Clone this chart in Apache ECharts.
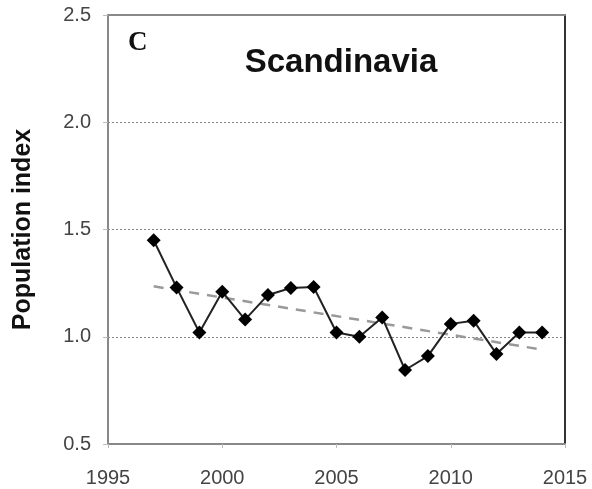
<!DOCTYPE html>
<html>
<head>
<meta charset="utf-8">
<script src="https://cdn.jsdelivr.net/npm/echarts@6/dist/echarts.min.js"></script>
<style>
  html, body { margin: 0; padding: 0; background: #fff; }
  #main { width: 592px; height: 489px; }
</style>
</head>
<body>
<div id="main"></div>
<script>
// data
var years = [1997, 1998, 1999, 2000, 2001, 2002, 2003, 2004, 2005, 2006, 2007, 2008, 2009, 2010, 2011, 2012, 2013, 2014];
var popIndex = [1.45, 1.23, 1.02, 1.21, 1.08, 1.195, 1.227, 1.232, 1.02, 1.0, 1.09, 0.845, 0.91, 1.06, 1.075, 0.92, 1.02, 1.02];
var trendYears = [1997, 2014];
var trendValues = [1.235, 0.94];

var chart = echarts.init(document.getElementById('main'));

var seriesData = [];
for (var i = 0; i < years.length; i++) {
	seriesData.push([years[i], popIndex[i]]);
}
var trendData = [];
for (var j = 0; j < trendYears.length; j++) {
	trendData.push([trendYears[j], trendValues[j]]);
}

var tickFont = { fontFamily: 'Liberation Sans', fontSize: 20, color: '#444' };

var option = {
	animation: false,
	backgroundColor: '#fff',
	grid: { left: 108, right: 27, top: 15, bottom: 45 },
	title: [
		{
			text: 'Scandinavia',
			left: 336, top: 41, textAlign: 'center',
			textStyle: { fontFamily: 'Liberation Sans', fontWeight: 'bold', fontSize: 33, color: '#111' }
		},
		{
			text: 'C',
			left: 123, top: 25,
			textStyle: { fontFamily: 'Liberation Serif', fontWeight: 'bold', fontSize: 27, color: '#111' }
		}
	],
	xAxis: [
		{
			type: 'value', min: 1995, max: 2015, interval: 5,
			axisLine: { lineStyle: { color: '#888', width: 2 } },
			axisTick: { show: true, length: 4, lineStyle: { color: '#bbb' } },
			axisLabel: Object.assign({ margin: 24, formatter: function(v) { return String(v); } }, tickFont),
			splitLine: { show: false }
		},
		{
			type: 'value', min: 1995, max: 2015, position: 'top',
			axisLine: { show: true, onZero: false, lineStyle: { color: '#888', width: 2 } },
			axisTick: { show: false }, axisLabel: { show: false }, splitLine: { show: false }
		}
	],
	yAxis: [
		{
			type: 'value', min: 0.5, max: 2.5, interval: 0.5,
			name: 'Population index', nameLocation: 'middle', nameGap: 72,
			nameTextStyle: { fontFamily: 'Liberation Sans', fontWeight: 'bold', fontSize: 25, color: '#111' },
			axisLine: { show: true, lineStyle: { color: '#888', width: 2 } },
			axisTick: { show: true, length: 5, lineStyle: { color: '#bbb' } },
			axisLabel: Object.assign({ margin: 17, formatter: function(v) { return v.toFixed(1); } }, tickFont),
			splitLine: { show: true, lineStyle: { color: '#888', type: [2, 2], width: 1 } }
		},
		{
			type: 'value', min: 0.5, max: 2.5, position: 'right',
			axisLine: { show: true, onZero: false, lineStyle: { color: '#333', width: 2 } },
			axisTick: { show: false }, axisLabel: { show: false }, splitLine: { show: false }
		}
	],
	series: [
		{
			name: 'trend',
			type: 'line',
			data: trendData,
			symbol: 'none',
			lineStyle: { color: '#999', width: 2.5, type: [10, 8] },
			z: 1
		},
		{
			name: 'index',
			type: 'line',
			data: seriesData,
			symbol: 'diamond',
			symbolSize: 14,
			itemStyle: { color: '#000' },
			lineStyle: { color: '#222', width: 2 },
			z: 3
		}
	]
};

chart.setOption(option);
</script>
</body>
</html>
